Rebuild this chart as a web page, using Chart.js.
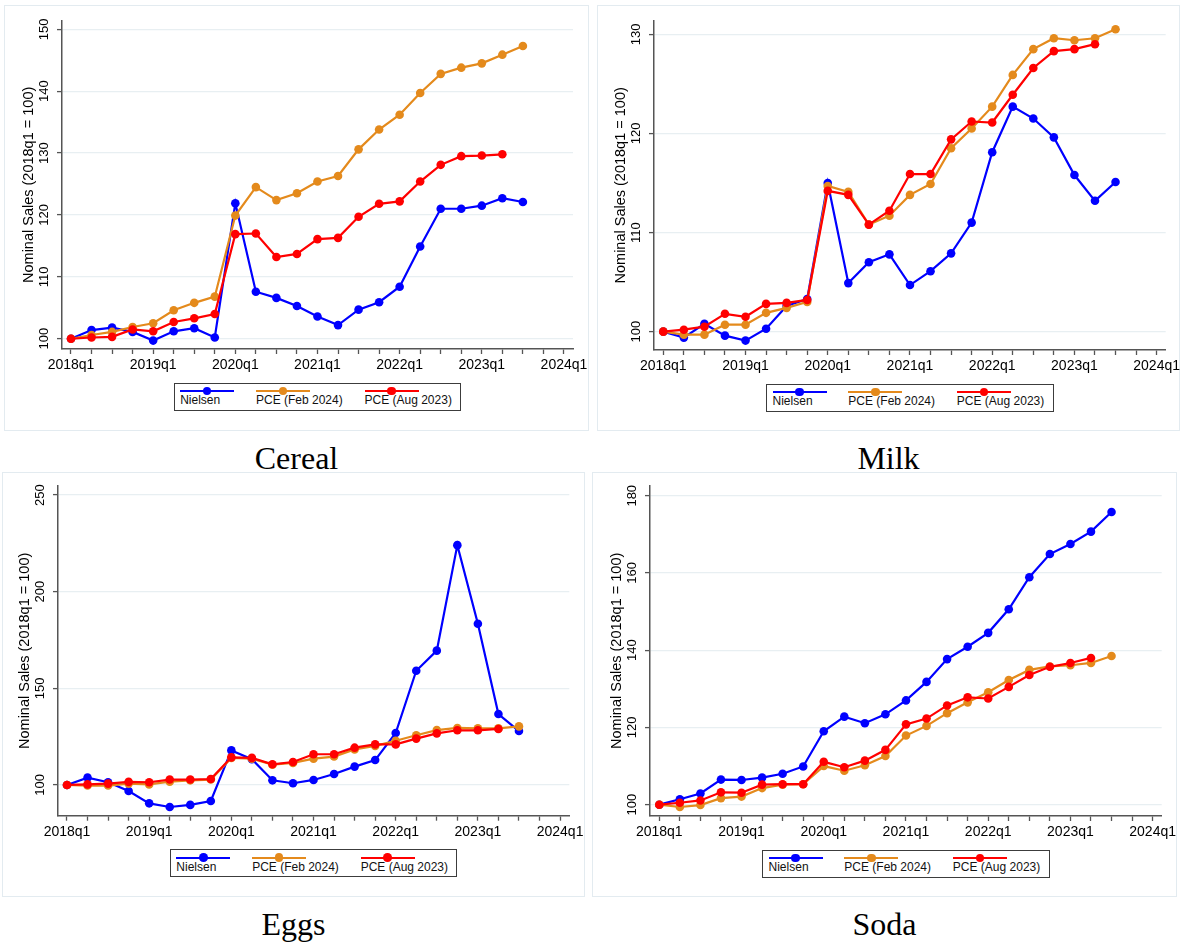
<!DOCTYPE html>
<html><head><meta charset="utf-8">
<script src="https://cdn.jsdelivr.net/npm/chart.js@4.4.1/dist/chart.umd.min.js"></script>
<style>
html,body{margin:0;padding:0;background:#fff;}
body{width:1185px;height:943px;position:relative;overflow:hidden;font-family:"Liberation Sans",Arial,sans-serif;}
.panel{position:absolute;border:1px solid #e3ebf0;box-sizing:border-box;}
canvas{position:absolute;}
.title{position:absolute;text-align:center;font-family:"Liberation Serif","Times New Roman",serif;font-size:32px;line-height:32px;color:#000;}
.legend{position:absolute;border:1px solid #3c3c3c;box-sizing:border-box;height:28px;width:287.4px;display:flex;padding-left:5.4px;white-space:nowrap;background:#fff;}
.item{display:flex;flex-direction:column;margin-right:21.8px;}
.sym{position:relative;width:54px;height:10.7px;}
.sym .ln{position:absolute;left:0;right:0;top:6.3px;height:2.2px;}
.sym .dot{position:absolute;left:22.7px;top:3.1px;width:8.6px;height:8.6px;border-radius:50%;}
.lab{font-size:12px;line-height:13px;color:#111;}
</style>
</head><body>
<script>
// ---------- data ----------
const quarters = ['2018q1','2018q2','2018q3','2018q4','2019q1','2019q2','2019q3','2019q4',
  '2020q1','2020q2','2020q3','2020q4','2021q1','2021q2','2021q3','2021q4',
  '2022q1','2022q2','2022q3','2022q4','2023q1','2023q2','2023q3'];
const xTickLabels = ['2018q1','2019q1','2020q1','2021q1','2022q1','2023q1','2024q1'];
const seriesNames = ['Nielsen','PCE (Feb 2024)','PCE (Aug 2023)'];
const panelTitles = ['Cereal','Milk','Eggs','Soda'];
const yAxisTitle = 'Nominal Sales (2018q1 = 100)';

const cerealNielsen  = [100,101.4,101.8,101.1,99.7,101.2,101.7,100.2,121.9,107.6,106.6,105.3,103.6,102.2,104.7,105.9,108.4,114.9,121.0,121.0,121.5,122.7,122.1];
const cerealPceFeb24 = [100,100.6,101.1,101.9,102.5,104.6,105.8,106.8,119.9,124.5,122.4,123.5,125.4,126.3,130.6,133.8,136.2,139.7,142.8,143.8,144.5,145.9,147.3];
const cerealPceAug23 = [100,100.2,100.3,101.5,101.2,102.7,103.3,104.0,116.9,117.0,113.2,113.7,116.1,116.3,119.7,121.8,122.2,125.4,128.1,129.5,129.6,129.8];
const cerealTicks = [100,110,120,130,140,150];

const milkNielsen  = [100,99.4,100.8,99.6,99.1,100.3,102.6,103.3,115.0,104.9,107.0,107.8,104.7,106.1,107.9,111.0,118.1,122.7,121.5,119.6,115.8,113.2,115.1];
const milkPceFeb24 = [100,99.7,99.7,100.7,100.7,101.9,102.4,103.0,114.7,114.1,110.8,111.7,113.8,114.9,118.5,120.5,122.7,125.9,128.5,129.6,129.4,129.6,130.5];
const milkPceAug23 = [100,100.2,100.5,101.8,101.5,102.8,102.9,103.2,114.2,113.8,110.8,112.2,115.9,115.9,119.4,121.2,121.1,123.9,126.6,128.3,128.5,129.0];
const milkTicks = [100,110,120,130];

const eggsNielsen  = [100,103.8,101.4,96.9,90.5,88.6,89.7,91.7,117.9,113.3,102.4,100.9,102.6,105.7,109.5,112.9,126.9,159.1,169.5,224.1,183.4,136.7,127.9];
const eggsPceFeb24 = [100,99.7,99.7,100.7,100.3,101.7,102.4,102.8,114.0,113.6,110.5,111.4,113.6,114.7,118.4,120.2,122.9,125.7,128.4,129.5,129.3,129.3,130.3];
const eggsPceAug23 = [100,100.3,100.7,101.6,101.4,102.8,102.8,103.1,114.3,114.0,110.7,111.9,115.9,115.9,119.3,121.0,121.0,124.0,126.7,128.3,128.3,129.0];
const eggsTicks = [100,150,200,250];

const sodaNielsen  = [100,101.4,102.9,106.5,106.4,107.0,108.0,109.9,119.0,122.8,121.1,123.4,127.0,131.8,137.7,140.9,144.5,150.6,158.9,164.9,167.5,170.7,175.8];
const sodaPceFeb24 = [100,99.4,99.9,101.7,102.1,104.3,105.2,105.3,110.0,108.8,110.2,112.6,117.9,120.4,123.7,126.5,129.1,132.3,134.9,135.8,136.1,136.7,138.5];
const sodaPceAug23 = [100,100.5,101.1,103.2,103.1,105.2,105.3,105.3,111.1,109.7,111.4,114.2,120.8,122.3,125.7,127.8,127.5,130.5,133.6,135.7,136.7,138.0];
const sodaTicks = [100,120,140,160,180];

// ---------- styling / layout ----------
const COLORS = ['#0000ff','#e48a1c','#ff0000'];
const AXIS = '#555555';
const GRID = '#e8eff2';
const FONT = '"Liberation Sans", Arial, sans-serif';
Chart.defaults.font.family = FONT;

const panels = [
  {box:[4,5,588,430],    plot:{l:62,  r:573,    t:20.7,  b:349},   y:[98.34,151.39], x:[-0.438,24.44], titleBase:469, series:[cerealNielsen,cerealPceFeb24,cerealPceAug23], ticks:cerealTicks},
  {box:[597,5,1179,430], plot:{l:654, r:1165.7, t:20.7,  b:350},   y:[98.15,131.37], x:[-0.452,24.44], titleBase:469, series:[milkNielsen,milkPceFeb24,milkPceAug23], ticks:milkTicks},
  {box:[2,472,584,896],  plot:{l:58,  r:569.3,  t:486,   b:815.7}, y:[84.1,254.7],   x:[-0.438,24.45], titleBase:935, series:[eggsNielsen,eggsPceFeb24,eggsPceAug23], ticks:eggsTicks},
  {box:[592,472,1176,896],plot:{l:650,r:1161.7, t:485.7, b:816},   y:[97.07,182.6],  x:[-0.452,24.44], titleBase:935, series:[sodaNielsen,sodaPceFeb24,sodaPceAug23], ticks:sodaTicks}
];

panels.forEach((P, idx) => {
  const [x0,y0,x1,y1] = P.box;
  const cw = x1-x0+1, ch = y1-y0+1;
  const border = document.createElement('div');
  border.className = 'panel';
  Object.assign(border.style,{left:x0+'px',top:y0+'px',width:cw+'px',height:ch+'px'});
  document.body.appendChild(border);

  const cv = document.createElement('canvas');
  cv.width = cw; cv.height = ch;
  Object.assign(cv.style,{left:x0+'px',top:y0+'px',width:cw+'px',height:ch+'px'});
  document.body.appendChild(cv);

  const yW = P.plot.l - x0;
  const padR = (x0+cw) - P.plot.r;
  const padT = P.plot.t - y0;
  const xH = 40;
  const padB = ch - (P.plot.b - y0) - xH;
  const titleFont = 14.5, titleLH = titleFont*1.2;
  const titlePadTop = (P.plot.l - x0 - 33.5) - titleLH/2;

  const datasets = P.series.map((arr, i) => ({
    label: seriesNames[i],
    data: arr.map((v, k) => ({x: quarters.indexOf(quarters[k]), y: v})),
    borderColor: COLORS[i],
    backgroundColor: COLORS[i],
    pointBackgroundColor: COLORS[i],
    pointBorderWidth: 0,
    pointRadius: 4.3,
    pointHoverRadius: 4.3,
    borderWidth: 2.2,
    tension: 0,
    order: 2 - i
  }));

  new Chart(cv, {
    type: 'line',
    data: {datasets},
    options: {
      responsive: false,
      animation: false,
      events: [],
      layout: {padding: {left: 0, right: padR, top: padT, bottom: padB}},
      plugins: {legend: {display: false}, tooltip: {enabled: false}, title: {display: false}},
      scales: {
        x: {
          type: 'linear', min: P.x[0], max: P.x[1],
          afterBuildTicks: s => { const t=[]; for (let q=0;q<=24;q++) t.push({value:q}); s.ticks = t; },
          ticks: {autoSkip: false, minRotation: 0, maxRotation: 0, padding: 3, color: '#000',
                  font: {size: 14}, callback: v => (v % 4 === 0 ? xTickLabels[v/4] : '')},
          grid: {drawOnChartArea: false, drawTicks: true, tickLength: 5, tickColor: AXIS, tickWidth: 1.3},
          border: {display: true, color: AXIS, width: 1.5},
          afterFit: s => { s.height = xH; s.paddingLeft = 0; s.paddingRight = 0; }
        },
        y: {
          type: 'linear', min: P.y[0], max: P.y[1],
          afterBuildTicks: s => { s.ticks = P.ticks.map(v => ({value: v})); },
          ticks: {autoSkip: false, minRotation: 90, maxRotation: 90, crossAlign: 'center', padding: 2,
                  color: '#000', font: {size: 13}},
          grid: {color: GRID, lineWidth: 1.2, drawTicks: true, tickLength: 5, tickColor: AXIS, tickWidth: 1.3},
          border: {display: true, color: AXIS, width: 1.5},
          title: {display: true, text: yAxisTitle, color: '#000', font: {size: titleFont},
                  padding: {top: titlePadTop, bottom: 0}},
          afterFit: s => { s.width = yW; s.paddingTop = 0; s.paddingBottom = 0; }
        }
      }
    }
  });

  // legend (HTML)
  const lg = document.createElement('div');
  lg.className = 'legend';
  const lcx = (P.plot.l + P.plot.r) / 2;
  lg.style.left = (lcx - 143.7) + 'px';
  lg.style.top = (P.plot.b + 33.7) + 'px';
  seriesNames.forEach((name, i) => {
    const it = document.createElement('div'); it.className = 'item';
    if (i === seriesNames.length - 1) it.style.marginRight = '0';
    const sym = document.createElement('div'); sym.className = 'sym';
    const ln = document.createElement('div'); ln.className = 'ln'; ln.style.background = COLORS[i];
    const dot = document.createElement('div'); dot.className = 'dot'; dot.style.background = COLORS[i];
    sym.appendChild(ln); sym.appendChild(dot);
    const lab = document.createElement('div'); lab.className = 'lab'; lab.textContent = name;
    it.appendChild(sym); it.appendChild(lab);
    lg.appendChild(it);
  });
  document.body.appendChild(lg);

  // panel title
  const t = document.createElement('div');
  t.className = 'title';
  t.textContent = panelTitles[idx];
  Object.assign(t.style, {left: x0+'px', width: cw+'px', top: (P.titleBase - 26.8)+'px'});
  document.body.appendChild(t);
});
</script>
</body></html>
